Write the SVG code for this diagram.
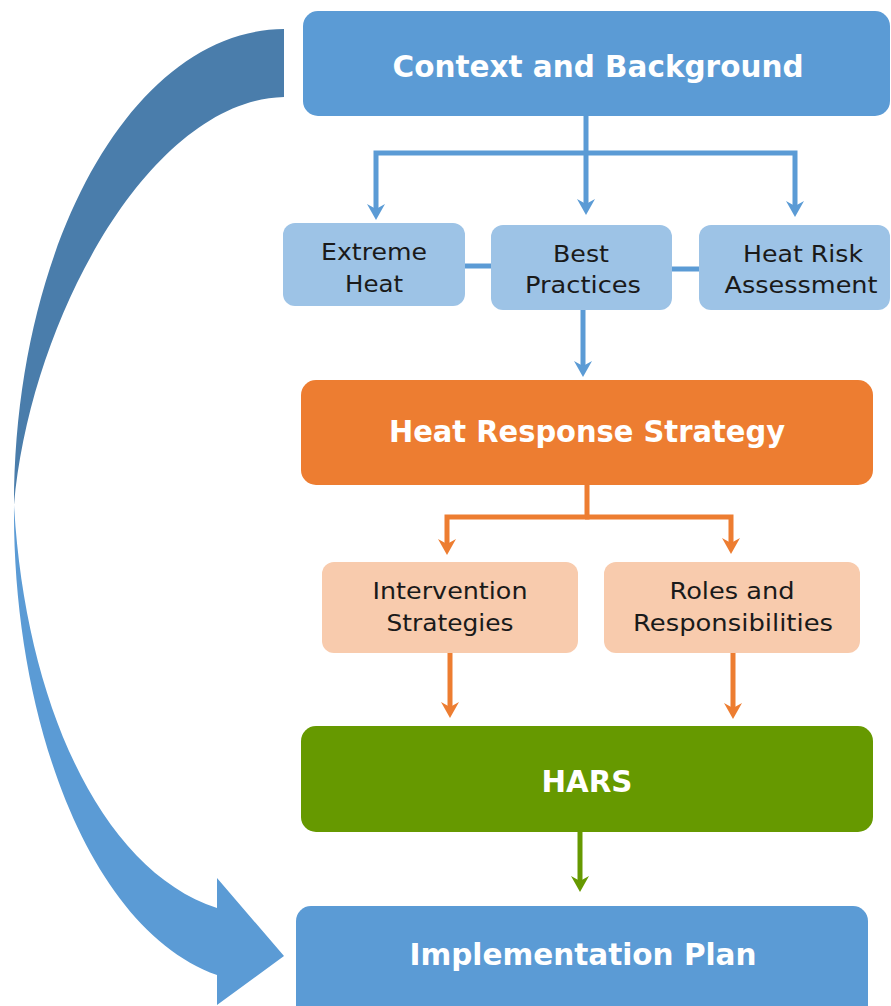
<svg xmlns="http://www.w3.org/2000/svg" width="891" height="1006" viewBox="0 0 891 1006">
<style>
.box-main{fill:#5B9BD5}
.box-sub{fill:#9DC3E6}
.box-org{fill:#ED7D31}
.box-peach{fill:#F8CBAD}
.box-grn{fill:#669900}
.t-main{font-family:"DejaVu Sans","Liberation Sans",sans-serif;font-weight:bold;font-size:30px;fill:#ffffff;text-anchor:middle}
.t-sub{font-family:"DejaVu Sans","Liberation Sans",sans-serif;font-size:23px;fill:#1a1a1a;text-anchor:middle}
.c-blue{stroke:#5B9BD5;stroke-width:5;fill:none}
.c-org{stroke:#ED7D31;stroke-width:5;fill:none}
.c-grn{stroke:#669900;stroke-width:5;fill:none}
</style>
<defs>
<marker id="ah-blue" markerUnits="userSpaceOnUse" markerWidth="20" markerHeight="20" viewBox="0 0 20 20" refX="10" refY="10" orient="auto"><path d="M2,1 L18,10 L2,19 L7,10 Z" fill="#5B9BD5"/></marker>
<marker id="ah-org" markerUnits="userSpaceOnUse" markerWidth="20" markerHeight="20" viewBox="0 0 20 20" refX="10" refY="10" orient="auto"><path d="M2,1 L18,10 L2,19 L7,10 Z" fill="#ED7D31"/></marker>
<marker id="ah-grn" markerUnits="userSpaceOnUse" markerWidth="20" markerHeight="20" viewBox="0 0 20 20" refX="10" refY="10" orient="auto"><path d="M2,1 L18,10 L2,19 L7,10 Z" fill="#669900"/></marker>
</defs>

<g id="feedback-arrow">
<path d="M284,29 C130,30 14,250 14,505 C30,320 150,100 284,97 Z" fill="#4A7DAB"/>
<path d="M14,505 C12,720 90,930 217,975 L217,1005 L284,956 L217,878 L217,908 C100,870 25,700 14,505 Z" fill="#5B9BD5"/>
</g>

<g id="connectors">
<path class="c-blue" d="M586,116 V207" marker-end="url(#ah-blue)"/>
<path class="c-blue" d="M588,153 H376 V212" marker-end="url(#ah-blue)"/>
<path class="c-blue" d="M584,153 H795 V209" marker-end="url(#ah-blue)"/>
<path class="c-blue" d="M465,266 H491"/>
<path class="c-blue" d="M672,269 H699"/>
<path class="c-blue" d="M583,310 V369" marker-end="url(#ah-blue)"/>
<path class="c-org" d="M587,485 V517 H447 V547" marker-end="url(#ah-org)"/>
<path class="c-org" d="M585,517 H731 V546" marker-end="url(#ah-org)"/>
<path class="c-org" d="M450,653 V710" marker-end="url(#ah-org)"/>
<path class="c-org" d="M733,653 V711" marker-end="url(#ah-org)"/>
<path class="c-grn" d="M580,832 V884" marker-end="url(#ah-grn)"/>
</g>

<g id="context">
<rect class="box-main" x="303" y="11" width="587" height="105" rx="15"/>
<text class="t-main" x="598" y="77" textLength="411" lengthAdjust="spacingAndGlyphs">Context and Background</text>
</g>

<g id="extreme-heat">
<rect class="box-sub" x="283" y="223" width="182" height="83" rx="12"/>
<text class="t-sub" x="374" y="260" textLength="106" lengthAdjust="spacingAndGlyphs">Extreme</text>
<text class="t-sub" x="374" y="292" textLength="58" lengthAdjust="spacingAndGlyphs">Heat</text>
</g>

<g id="best-practices">
<rect class="box-sub" x="491" y="225" width="181" height="85" rx="12"/>
<text class="t-sub" x="581" y="262" textLength="56" lengthAdjust="spacingAndGlyphs">Best</text>
<text class="t-sub" x="583" y="293" textLength="116" lengthAdjust="spacingAndGlyphs">Practices</text>
</g>

<g id="heat-risk">
<rect class="box-sub" x="699" y="225" width="191" height="85" rx="12"/>
<text class="t-sub" x="803" y="262" textLength="120" lengthAdjust="spacingAndGlyphs">Heat Risk</text>
<text class="t-sub" x="801" y="293" textLength="153" lengthAdjust="spacingAndGlyphs">Assessment</text>
</g>

<g id="heat-response-strategy">
<rect class="box-org" x="301" y="380" width="572" height="105" rx="15"/>
<text class="t-main" x="587" y="442" textLength="396" lengthAdjust="spacingAndGlyphs">Heat Response Strategy</text>
</g>

<g id="intervention-strategies">
<rect class="box-peach" x="322" y="562" width="256" height="91" rx="12"/>
<text class="t-sub" x="450" y="599" textLength="155" lengthAdjust="spacingAndGlyphs">Intervention</text>
<text class="t-sub" x="450" y="631" textLength="127" lengthAdjust="spacingAndGlyphs">Strategies</text>
</g>

<g id="roles-responsibilities">
<rect class="box-peach" x="604" y="562" width="256" height="91" rx="12"/>
<text class="t-sub" x="732" y="599" textLength="125" lengthAdjust="spacingAndGlyphs">Roles and</text>
<text class="t-sub" x="733" y="631" textLength="200" lengthAdjust="spacingAndGlyphs">Responsibilities</text>
</g>

<g id="hars">
<rect class="box-grn" x="301" y="726" width="572" height="106" rx="15"/>
<text class="t-main" x="587" y="792" textLength="91" lengthAdjust="spacingAndGlyphs">HARS</text>
</g>

<g id="implementation-plan">
<rect class="box-main" x="296" y="906" width="572" height="120" rx="15"/>
<text class="t-main" x="583" y="965" textLength="347" lengthAdjust="spacingAndGlyphs">Implementation Plan</text>
</g>
</svg>
